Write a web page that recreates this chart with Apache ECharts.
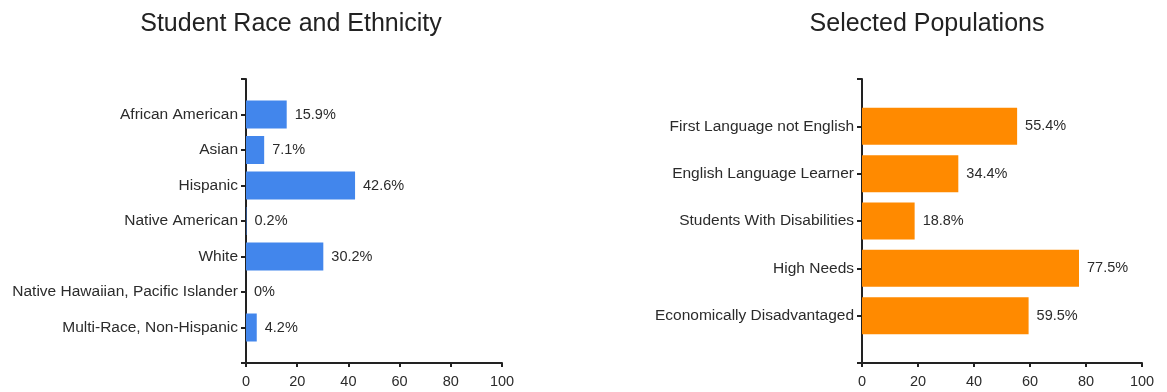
<!DOCTYPE html>
<html>
<head>
<meta charset="utf-8">
<script src="https://cdn.jsdelivr.net/npm/echarts@6/dist/echarts.min.js"></script>
<style>
html,body{margin:0;padding:0;background:#fff;}
#chart{width:1167px;height:392px;}
</style>
</head>
<body>
<div id="chart"></div>
<script>
const raceTitle = 'Student Race and Ethnicity';
const raceCategories = ['African American', 'Asian', 'Hispanic', 'Native American', 'White', 'Native Hawaiian, Pacific Islander', 'Multi-Race, Non-Hispanic'];
const raceValues = [15.9, 7.1, 42.6, 0.2, 30.2, 0, 4.2];

const popTitle = 'Selected Populations';
const popCategories = ['First Language not English', 'English Language Learner', 'Students With Disabilities', 'High Needs', 'Economically Disadvantaged'];
const popValues = [55.4, 34.4, 18.8, 77.5, 59.5];

const xTicks = [0, 20, 40, 60, 80, 100];

// pad categories with blank slots at both ends (axis runs half a step beyond)
function padCats(c) { return [''].concat(c, [' ']); }
function padVals(v) { return ['-'].concat(v, ['-']); }

const FONT = 'Liberation Sans, Arial, sans-serif';
const AX = '#222';
const TXT = '#2b2b2b';

function xAxisCfg(gi) {
  return {
    gridIndex: gi, type: 'value', min: xTicks[0], max: xTicks[xTicks.length - 1], interval: xTicks[1] - xTicks[0],
    axisLine: { show: true, onZero: false, lineStyle: { color: AX, width: 2 } },
    axisTick: { show: true, length: 4, lineStyle: { color: AX, width: 2 } },
    axisLabel: { color: TXT, fontSize: 14.5, fontFamily: FONT, margin: 11 },
    splitLine: { show: false }
  };
}
function yAxisCfg(gi, cats) {
  return {
    gridIndex: gi, type: 'category', data: padCats(cats), inverse: true, boundaryGap: false,
    axisLine: { show: true, lineStyle: { color: AX, width: 2 } },
    axisTick: { show: true, length: 5, alignWithLabel: true, lineStyle: { color: AX, width: 2 } },
    axisLabel: { color: TXT, fontSize: 15.5, fontFamily: FONT, margin: 8 },
    splitLine: { show: false }
  };
}
function seriesCfg(i, vals, color, w) {
  return {
    type: 'bar', xAxisIndex: i, yAxisIndex: i, data: padVals(vals), barWidth: w,
    itemStyle: { color: color },
    label: { show: true, position: 'right', distance: 8, formatter: '{c}%', color: TXT, fontSize: 14.5, fontFamily: FONT },
    silent: true, animation: false
  };
}

const chart = echarts.init(document.getElementById('chart'), null, { renderer: 'canvas' });
chart.setOption({
  animation: false,
  backgroundColor: '#fff',
  title: [
    { text: raceTitle, left: 286, top: 7, textAlign: 'center', textStyle: { fontFamily: FONT, fontSize: 25, fontWeight: 'normal', color: '#222' } },
    { text: popTitle, left: 922, top: 7, textAlign: 'center', textStyle: { fontFamily: FONT, fontSize: 25, fontWeight: 'normal', color: '#222' } }
  ],
  grid: [
    { left: 246, top: 79, width: 256, height: 284, containLabel: false },
    { left: 862, top: 79, width: 280, height: 284, containLabel: false }
  ],
  xAxis: [xAxisCfg(0), xAxisCfg(1)],
  yAxis: [yAxisCfg(0, raceCategories), yAxisCfg(1, popCategories)],
  series: [
    seriesCfg(0, raceValues, '#4286EC', 28),
    seriesCfg(1, popValues, '#FF8A00', 37)
  ]
});
</script>
</body>
</html>
